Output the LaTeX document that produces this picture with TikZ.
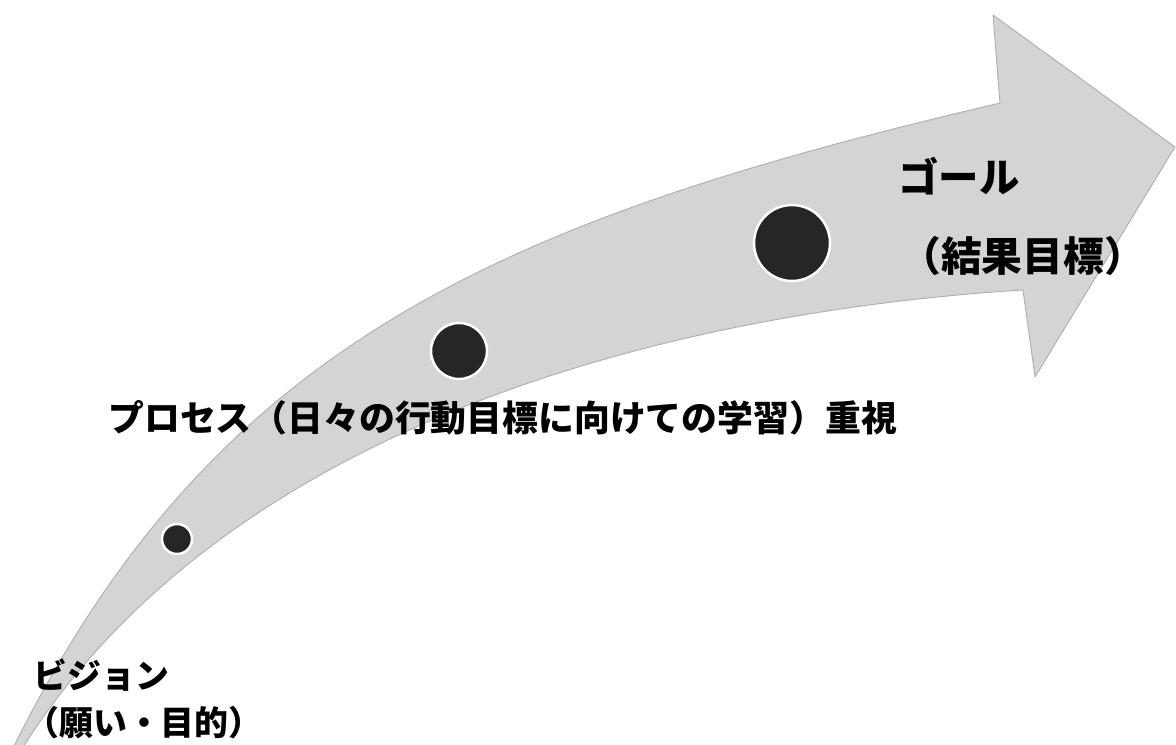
\documentclass[tikz,border=0pt]{standalone}
\usepackage{fontspec}
\newfontfamily\jp{Noto Sans CJK JP}
\begin{document}
\begin{tikzpicture}[x=0.02cm,y=-0.02cm,
  band/.style={fill=black!17, draw=black!32, line width=0.5pt, line join=round},
  dot/.style={circle, fill=black!85, draw=white, line width=1.4pt, inner sep=0pt},
  lbl/.style={inner sep=0pt, anchor=base west, text=black}]
\useasboundingbox (0,0) rectangle (1176,744);
\clip (0,0) rectangle (1176,744);
\path[band] (-3,780) -- (15,744) .. controls (215,344) and (500,220) .. (1000,103)
  -- (993,15) -- (1175,147) -- (1035,377) -- (1023,290)
  .. controls (700,310) and (240,410) .. (25,744) -- (2,780) -- cycle;
\node[dot, minimum size=0.6cm] (c1) at (177,539) {};
\node[dot, minimum size=1.12cm] (c2) at (459,351) {};
\node[dot, minimum size=1.52cm] (c3) at (792,243) {};
\node[lbl, font=\jp\bfseries\fontsize{23pt}{24pt}\selectfont] (goal) at (898,192) {ゴール};
\node[lbl, font=\jp\bfseries\fontsize{23.2pt}{24pt}\selectfont] (goalsub) at (900,271) {（結果目標）};
\node[lbl, font=\jp\bfseries\fontsize{20.4pt}{22pt}\selectfont] (proc) at (108,431) {プロセス（日々の行動目標に向けての学習）重視};
\node[lbl, font=\jp\bfseries\fontsize{19.3pt}{21pt}\selectfont] (vis) at (33,688) {ビジョン};
\node[lbl, font=\jp\bfseries\fontsize{19.3pt}{21pt}\selectfont] (vissub) at (25,735) {（願い・目的）};
\end{tikzpicture}
\end{document}
